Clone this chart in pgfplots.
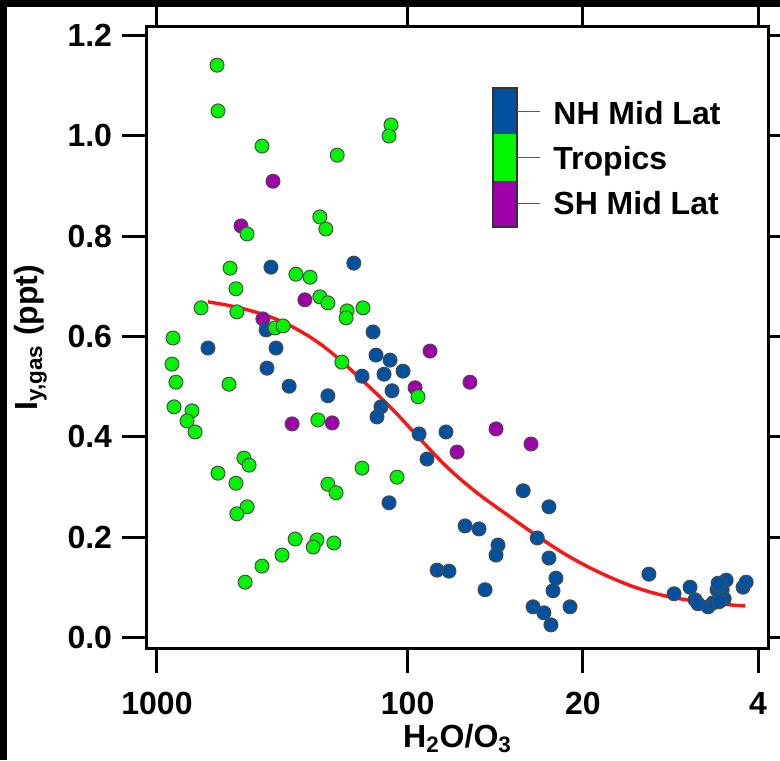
\documentclass[border=0pt]{standalone}
\usepackage{fontspec}
\setmainfont{Liberation Sans}
\usepackage{pgfplots}
\pgfplotsset{compat=1.18}
\definecolor{nhblue}{RGB}{0,82,160}
\definecolor{trgreen}{RGB}{0,245,0}
\definecolor{shpurple}{RGB}{160,0,170}
\definecolor{fitred}{RGB}{255,20,20}
\newcommand{\lbl}{\fontsize{16}{19}\selectfont\bfseries}
\pgfplotstableread{
x y
576 1.140
571 1.049
381 0.979
191 0.961
116.5 1.021
118.6 0.999
224 0.838
212 0.814
437 0.804
511 0.736
279 0.724
245 0.718
484 0.695
224 0.679
208 0.667
150.7 0.657
174.5 0.651
176 0.637
667 0.657
480 0.649
338 0.617
314 0.621
863 0.597
183 0.549
871 0.545
840 0.509
516 0.505
855 0.460
725 0.452
759 0.432
705 0.410
228 0.434
90.9 0.480
450 0.358
429 0.344
152 0.338
110.2 0.320
571 0.328
484 0.308
208 0.306
193 0.289
437 0.261
480 0.247
281 0.197
230 0.195
238 0.181
197 0.189
317 0.165
381 0.143
445 0.111
}\tropics
\pgfplotstableread{
x y
344.5 0.909
462 0.820
257 0.673
378 0.635
289 0.426
200 0.428
81.4 0.571
93.4 0.498
56.4 0.509
44.4 0.416
32.2 0.386
63.5 0.370
}\shmid
\pgfplotstableread{
x y
351 0.738
164 0.746
626 0.577
367 0.613
335 0.577
364 0.537
297 0.501
208 0.482
137.4 0.609
133.7 0.563
117.5 0.553
104.3 0.531
124.2 0.525
152 0.521
115.4 0.492
127.7 0.460
132.5 0.440
90.0 0.406
70.3 0.410
83.7 0.356
118.6 0.269
34.6 0.293
27.3 0.261
59.0 0.223
51.9 0.217
30.4 0.199
43.6 0.185
44.4 0.165
27.3 0.159
76.3 0.135
68.4 0.133
25.6 0.119
26.3 0.094
49.1 0.096
31.6 0.062
28.6 0.050
26.8 0.026
22.5 0.062
10.9 0.127
8.65 0.088
7.47 0.101
7.13 0.076
6.94 0.068
6.33 0.062
6.04 0.070
5.83 0.096
5.56 0.096
5.36 0.115
5.77 0.109
5.46 0.078
5.72 0.072
4.59 0.101
4.46 0.111
}\nhmid
\pgfplotstableread{
x y
626 0.669
467 0.657
344.5 0.637
269 0.611
209.7 0.575
154.8 0.517
114.4 0.454
89.2 0.396
69.6 0.340
52.9 0.289
39.0 0.241
29.6 0.199
22.5 0.161
16.6 0.127
12.15 0.0995
8.97 0.0816
6.63 0.0716
5.41 0.0667
4.50 0.0637
}\fit
\begin{document}
\begin{tikzpicture}
\useasboundingbox (0,0) rectangle (390pt,380pt);
\fill[white] (0,0) rectangle (390pt,380pt);
\begin{axis}[
  at={(73.5pt,56pt)}, anchor=south west,
  scale only axis, width=310.5pt, height=310.5pt,
  xmode=log, x dir=reverse,
  xmin=3.65, xmax=1096,
  ymin=-0.02, ymax=1.216,
  xtick={1000,100,20,4}, xticklabels={1000,100,20,4},
  ytick={0,0.2,0.4,0.6,0.8,1.0,1.2},
  xminorticks=false, yminorticks=false,
  tick align=outside, tick pos=both,
  xticklabel pos=lower, yticklabel pos=left,
  major tick length=12.5pt,
  axis line style={line width=1.5pt},
  every tick/.style={line width=1.5pt, black},
  tick label style={font=\lbl, /pgf/number format/assume math mode=true},
  yticklabel style={/pgf/number format/fixed, /pgf/number format/fixed zerofill, /pgf/number format/precision=1, xshift=-1.5pt},
  xticklabel style={yshift=-6pt},
  clip=false,
]
\addplot[only marks, mark=*, mark size=3.5pt, mark options={fill=shpurple, draw=black!70, line width=0.5pt}] table {\shmid};
\addplot[only marks, mark=*, mark size=3.5pt, mark options={fill=nhblue, draw=black!70, line width=0.5pt}] table {\nhmid};
\addplot[only marks, mark=*, mark size=3.5pt, mark options={fill=trgreen, draw=black!70, line width=0.5pt}] table {\tropics};
\addplot[smooth, tension=0.6, no markers, fitred, line width=1.7pt] table {\fit};
\end{axis}
% legend (colour key)
\fill[nhblue] (246.5pt,312.8pt) rectangle (258.5pt,336pt);
\fill[trgreen] (246.5pt,289.7pt) rectangle (258.5pt,312.8pt);
\fill[shpurple] (246.5pt,266.5pt) rectangle (258.5pt,289.7pt);
\draw[black!80, line width=0.7pt] (246.5pt,266.5pt) rectangle (258.5pt,336pt);
\draw[black!65, line width=0.6pt] (258.5pt,324.4pt) -- (270pt,324.4pt);
\draw[black!65, line width=0.6pt] (258.5pt,301.2pt) -- (270pt,301.2pt);
\draw[black!65, line width=0.6pt] (258.5pt,278.1pt) -- (270pt,278.1pt);
\node[anchor=base west, font=\lbl, inner sep=0pt] at (276.5pt,317.5pt) {NH Mid Lat};
\node[anchor=base west, font=\lbl, inner sep=0pt] at (276.5pt,295pt) {Tropics};
\node[anchor=base west, font=\lbl, inner sep=0pt] at (276.5pt,272.5pt) {SH Mid Lat};
% axis titles
\node[rotate=90, anchor=base, font=\lbl, inner sep=0pt] at (18.5pt,211.25pt) {I\textsubscript{y,gas} (ppt)};
\node[anchor=base, font=\lbl, inner sep=0pt] at (228.75pt,6.5pt) {H\textsubscript{2}O/O\textsubscript{3}};
% black edges of the original figure
\fill[black] (0,376.5pt) rectangle (390pt,380pt);
\fill[black] (0,0) rectangle (3.5pt,380pt);
\end{tikzpicture}
\end{document}
